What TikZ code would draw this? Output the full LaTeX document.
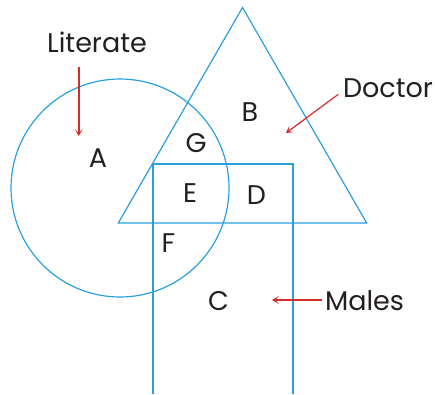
\documentclass[tikz,border=0pt]{standalone}
\usepackage{fontspec}
\setmainfont{Poppins}
\usetikzlibrary{arrows.meta}
\definecolor{vblue}{HTML}{2A9FE0}
\definecolor{vred}{HTML}{D42B2B}
\definecolor{vtext}{HTML}{231F20}
\begin{document}
\begin{tikzpicture}[x=1pt,y=-1pt,
  setline/.style={draw=vblue,line width=1.2pt},
  lbl/.style={text=vtext,font=\fontsize{27}{27}\selectfont,inner sep=0pt},
  ptr/.style={draw=vred,line width=1.6pt,-{Stealth[length=7pt,width=8pt,inset=4pt]}}]
\useasboundingbox (0,0) rectangle (435,394);
% sets
\draw[setline] (120,188) circle[radius=109];
\draw[setline] (242.5,7.5) -- (118.3,223) -- (366.7,223) -- cycle;
\coordinate (rbl) at (153,394);
\coordinate (rtl) at (153,164);
\coordinate (rtr) at (293,164);
\coordinate (rbr) at (293,394);
\draw[setline] (rbl) -- (rtl) -- (rtr) -- (rbr);
% region letters
\node[lbl] (A) at (98,158) {A};
\node[lbl] (B) at (250,112) {B};
\node[lbl] (G) at (196,143.5) {G};
\node[lbl] (E) at (190,193) {E};
\node[lbl] (D) at (256.5,195) {D};
\node[lbl] (F) at (168.5,243) {F};
\node[lbl] (C) at (218.5,301) {C};
% names
\node[lbl] (lit) at (97,42) {Literate};
\node[lbl] (doc) at (388,88) {Doctor};
\node[lbl] (mal) at (364.5,301) {Males};
% pointers
\coordinate (litstart) at (78.7,67.3);
\coordinate (litend) at (78.7,136);
\coordinate (docstart) at (338.3,94.3);
\coordinate (docend) at (286,133);
\coordinate (malstart) at (321.7,300);
\coordinate (malend) at (272,300);
\draw[ptr] (litstart) -- (litend);
\draw[ptr,line width=1.2pt] (docstart) -- (docend);
\draw[ptr] (malstart) -- (malend);
\end{tikzpicture}
\end{document}
